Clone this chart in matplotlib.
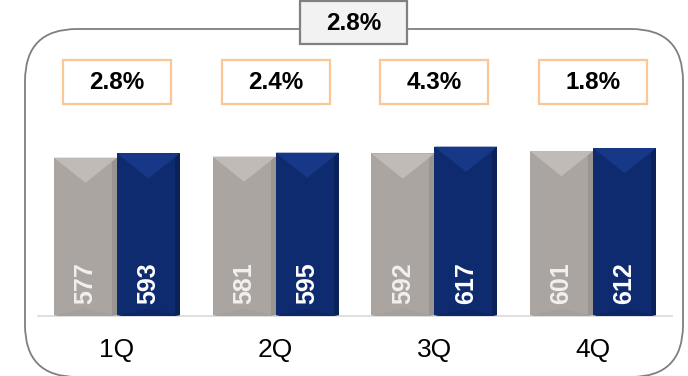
import matplotlib
matplotlib.use("Agg")
import matplotlib.pyplot as plt
from matplotlib.patches import FancyBboxPatch, Rectangle, Polygon
import numpy as np

plt.rcParams.update({"font.family": ["Liberation Sans", "DejaVu Sans"]})

# quarterly values: prior year vs current year
quarters = ["1Q", "2Q", "3Q", "4Q"]
prev_year = [577, 581, 592, 601]
curr_year = [593, 595, 617, 612]
growth = ["2.8%", "2.4%", "4.3%", "1.8%"]
total_growth = "2.8%"

W, H = 688, 376
fig = plt.figure(figsize=(W / 100, H / 100), dpi=100)

# background layer in pixel units (origin top-left)
bg = fig.add_axes([0, 0, 1, 1])
bg.set_xlim(0, W)
bg.set_ylim(H, 0)
bg.axis("off")

# rounded frame
frame = FancyBboxPatch((25, 29), 658, 348, boxstyle="round,pad=0,rounding_size=52",
                       facecolor="none", edgecolor="#7f7f7f", linewidth=1.3)
bg.add_patch(frame)

# total growth tab on top of the frame
bg.add_patch(Rectangle((300, 1), 107, 43, facecolor="#f2f2f2", edgecolor="#808080",
                       linewidth=1.6, zorder=3))
bg.text(353.5, 23, total_growth, ha="center", va="center", fontsize=17.5,
        fontweight="bold", color="black", zorder=4)

# bar axes: baseline at y=316 px, 0.2745 px per unit
px_per_unit = 0.2745
group_px = 158.67
x0_px = 117 - 0.5 * group_px
ymax = 800
ax_h = ymax * px_per_unit
ax = fig.add_axes([x0_px / W, (H - 316) / H, 4 * group_px / W, ax_h / H])
ax.set_xlim(-0.5, 3.5)
ax.set_ylim(0, ymax)
ax.patch.set_alpha(0)
for s in ["top", "right", "left"]:
    ax.spines[s].set_visible(False)
ax.spines["bottom"].set_color("#d9d9d9")
ax.spines["bottom"].set_linewidth(1.2)
ax.set_yticks([])

x = np.arange(len(quarters))
bw = 63 / group_px
off = bw / 2

bars_prev = ax.bar(x - off, prev_year, width=bw, color="#aba5a1", zorder=2)
bars_curr = ax.bar(x + off, curr_year, width=bw, color="#0f2b70", zorder=2)


def bevel(bar, top_c, right_c, bottom_c):
    bx, bwid, bh = bar.get_x(), bar.get_width(), bar.get_height()
    xc = bx + bwid / 2
    d = (bwid / 2 * group_px) * 0.8 / px_per_unit
    strip = bwid * 0.08
    # darker right edge
    ax.add_patch(Rectangle((bx + bwid - strip, 0), strip, bh, facecolor=right_c,
                           edgecolor="none", zorder=2.5))
    # light top facet
    ax.add_patch(Polygon([(bx, bh), (bx + bwid, bh), (xc, bh - d)], closed=True,
                         facecolor=top_c, edgecolor="none", zorder=2.6))
    # small bottom facet
    db = d * 0.3
    ax.add_patch(Polygon([(bx, 0), (bx + bwid, 0), (xc, db)], closed=True,
                         facecolor=bottom_c, edgecolor="none", zorder=2.6))


for b in bars_prev:
    bevel(b, "#c0bbb7", "#9b9591", "#a6a09c")
for b in bars_curr:
    bevel(b, "#173886", "#0b2159", "#0d2667")

# values written inside the bars
for xi, v in zip(x - off, prev_year):
    ax.text(xi, 45, str(v), rotation=90, ha="center", va="bottom", fontsize=18,
            fontweight="bold", color="#f2f0ef", zorder=4)
for xi, v in zip(x + off, curr_year):
    ax.text(xi, 45, str(v), rotation=90, ha="center", va="bottom", fontsize=18,
            fontweight="bold", color="white", zorder=4)

ax.set_xticks(x)
ax.set_xticklabels(quarters, fontsize=19)
ax.tick_params(axis="x", length=0, pad=16)

# growth boxes above each quarter
for xi, g in zip(x, growth):
    cx = 117 + xi * group_px
    bg.add_patch(Rectangle((cx - 54, 60), 108, 44, facecolor="white",
                           edgecolor="#fbc796", linewidth=1.6))
    bg.text(cx, 82.5, g, ha="center", va="center", fontsize=17.5,
            fontweight="bold", color="black")

fig.savefig("out.png", dpi=100)
